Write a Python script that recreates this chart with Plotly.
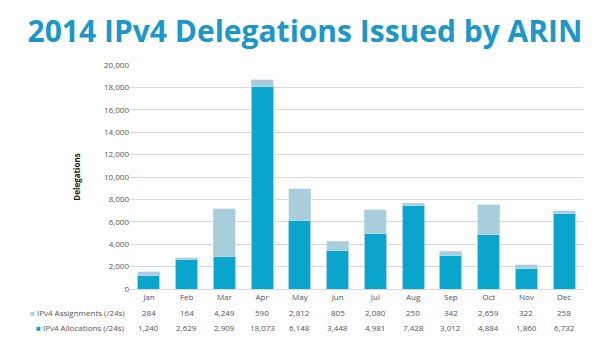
import plotly.graph_objects as go

months = ["Jan", "Feb", "Mar", "Apr", "May", "Jun", "Jul", "Aug", "Sep", "Oct", "Nov", "Dec"]
assignments = [284, 164, 4249, 590, 2812, 805, 2080, 250, 342, 2659, 322, 258]
allocations = [1240, 2629, 2909, 18073, 6148, 3448, 4981, 7428, 3012, 4884, 1860, 6732]
y_ticks = list(range(0, 20001, 2000))

alloc_color = "#0aa5cc"
assign_color = "#a8cedc"
text_color = "#555555"

fig = go.Figure()
fig.add_bar(x=months, y=allocations, name="IPv4 Allocations (/24s)",
            marker=dict(color=alloc_color, line=dict(color="#9fd3e6", width=1)))
fig.add_bar(x=months, y=assignments, name="IPv4 Assignments (/24s)",
            marker=dict(color=assign_color, line=dict(color="#c9e0e8", width=0.5)))

fig.update_layout(
    barmode="stack",
    bargap=0.42,
    width=610, height=352,
    margin=dict(l=130, r=27, t=65, b=63),
    paper_bgcolor="white", plot_bgcolor="white",
    showlegend=False,
    font=dict(family="Open Sans", size=8, color=text_color),
    title=dict(text="<b>2014 IPv4 Delegations Issued by ARIN</b>",
               x=0.5, xanchor="center", y=0.91, yanchor="middle",
               font=dict(family="Open Sans", size=30, color="#1b98c9")),
)
fig.update_yaxes(range=[0, 20000], tickvals=y_ticks, tickformat=",d",
                 showgrid=True, gridcolor="#d9d9d9", gridwidth=1,
                 zeroline=False, showline=False, ticks="", ticklen=0,
                 tickfont=dict(size=8, color=text_color),
                 title=dict(text="<b>Delegations</b>", standoff=22,
                            font=dict(size=8, color="#222222")))
fig.update_xaxes(showgrid=False, showline=True, linecolor="#d9d9d9",
                 ticks="", tickfont=dict(size=8, color=text_color))

ann = []
rows = [("IPv4 Assignments (/24s)", assign_color, assignments, -23),
        ("IPv4 Allocations (/24s)", alloc_color, allocations, -38)]
for label, col, vals, shift in rows:
    ann.append(dict(text=f"<span style='color:{col}'>■</span> {label}",
                    xref="paper", yref="paper", x=0, y=0, xanchor="right",
                    yanchor="middle", xshift=-3, yshift=shift, showarrow=False,
                    font=dict(size=8, color=text_color)))
    for m, v in zip(months, vals):
        ann.append(dict(text=f"{v:,}", xref="x", yref="paper", x=m, y=0,
                        xanchor="center", yanchor="middle", yshift=shift,
                        showarrow=False, font=dict(size=8, color=text_color)))
fig.update_layout(annotations=ann)

fig.write_html("out.html")
